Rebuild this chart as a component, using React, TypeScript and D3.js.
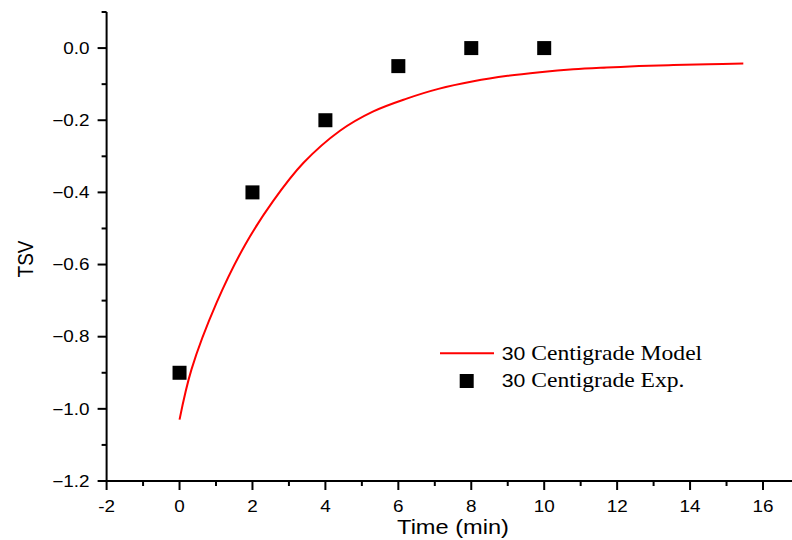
import React from "react";
import * as d3 from "d3";

const expTime = [0, 2, 4, 6, 8, 10];
const expTSV = [-0.9, -0.4, -0.2, -0.05, 0, 0];

const modelTime = [0, 0.33, 1.02, 1.8, 2.56, 3.4, 4.4, 5.3, 6.23, 7.1, 8.06, 9.0, 9.88, 10.8, 11.71, 12.6, 13.54, 14.5, 15.46];
const modelTSV = [-1.03, -0.89, -0.705, -0.545, -0.425, -0.318, -0.229, -0.176, -0.14, -0.113, -0.092, -0.077, -0.067, -0.059, -0.054, -0.05, -0.047, -0.045, -0.043];

const xMajor = [-2, 0, 2, 4, 6, 8, 10, 12, 14, 16];
const xMinor = [-1, 1, 3, 5, 7, 9, 11, 13, 15];
const yMajor = [-1.2, -1.0, -0.8, -0.6, -0.4, -0.2, 0.0];
const yMinor = [-1.1, -0.9, -0.7, -0.5, -0.3, -0.1, 0.1];

const legendLabels = ["Centigrade Model", "Centigrade Exp."];
const legendPrefix = "30";
const xTitle = "Time (min)";
const yTitle = "TSV";

const SX = 1.18;
const SANS = "'Liberation Sans', Arial, sans-serif";
const SERIF = "'Liberation Serif', 'Times New Roman', serif";

export default function App() {
  const x = d3.scaleLinear().domain([-2, 16]).range([106.6, 763]);
  const y = d3.scaleLinear().domain([-1.2, 0.1]).range([481, 12]);
  const line = d3
    .line<number>()
    .x((_, i) => x(modelTime[i]))
    .y((d) => y(d))
    .curve(d3.curveCatmullRom.alpha(0.5));
  const x0 = x(-2);
  const yb = y(-1.2);
  const fmt = d3.format(".1f");
  const sq = 14;

  return (
    <svg width={792} height={540} style={{ position: "absolute", left: 0, top: 0, background: "#fff" }}>
      <rect width={792} height={540} fill="#fff" />
      {/* model curve */}
      <path d={line(modelTSV) || ""} fill="none" stroke="#ff0000" strokeWidth={2} />
      {/* experimental points */}
      {expTime.map((t, i) => (
        <rect key={i} x={x(t) - sq / 2} y={y(expTSV[i]) - sq / 2} width={sq} height={sq} fill="#000" />
      ))}
      {/* axes */}
      <line x1={x0} x2={x0} y1={y(0.1)} y2={yb + 1} stroke="#000" strokeWidth={2} />
      <line x1={x0 - 1} x2={792} y1={yb} y2={yb} stroke="#000" strokeWidth={2} />
      {yMajor.map((v) => (
        <g key={"ym" + v}>
          <line x1={x0 - 9} x2={x0} y1={y(v)} y2={y(v)} stroke="#000" strokeWidth={2} />
          <text
            transform={`translate(${x0 - 17},${y(v) + 5.8}) scale(${SX},1)`}
            textAnchor="end"
            fontFamily={SANS}
            fontSize={16}
            fill="#000"
          >
            {fmt(v)}
          </text>
        </g>
      ))}
      {yMinor.map((v) => (
        <line key={"yn" + v} x1={x0 - 5} x2={x0} y1={y(v)} y2={y(v)} stroke="#000" strokeWidth={2} />
      ))}
      {xMajor.map((v) => (
        <g key={"xm" + v}>
          <line x1={x(v)} x2={x(v)} y1={yb} y2={yb + 9} stroke="#000" strokeWidth={2} />
          <text
            transform={`translate(${x(v)},${yb + 31}) scale(${SX},1)`}
            textAnchor="middle"
            fontFamily={SANS}
            fontSize={16}
            fill="#000"
          >
            {String(v)}
          </text>
        </g>
      ))}
      {xMinor.map((v) => (
        <line key={"xn" + v} x1={x(v)} x2={x(v)} y1={yb} y2={yb + 5} stroke="#000" strokeWidth={2} />
      ))}
      {/* axis titles */}
      <text
        transform={`translate(453,534) scale(${SX},1)`}
        textAnchor="middle"
        fontFamily={SANS}
        fontSize={20}
        fill="#000"
      >
        {xTitle}
      </text>
      <text
        transform={`translate(33,259) scale(${SX},1) rotate(-90)`}
        textAnchor="middle"
        fontFamily={SANS}
        fontSize={19}
        fill="#000"
      >
        {yTitle}
      </text>
      {/* legend */}
      <line x1={440} x2={494} y1={353.3} y2={353.3} stroke="#ff0000" strokeWidth={2} />
      <rect x={466.7 - 7} y={381 - 7} width={14} height={14} fill="#000" />
      {legendLabels.map((lab, i) => (
        <text
          key={lab}
          transform={`translate(501.7,${360 + i * 27}) scale(${SX},1)`}
          fontSize={20}
          fill="#000"
        >
          <tspan fontFamily={SANS} fontSize={18}>{legendPrefix} </tspan>
          <tspan fontFamily={SERIF}>{lab}</tspan>
        </text>
      ))}
    </svg>
  );
}
